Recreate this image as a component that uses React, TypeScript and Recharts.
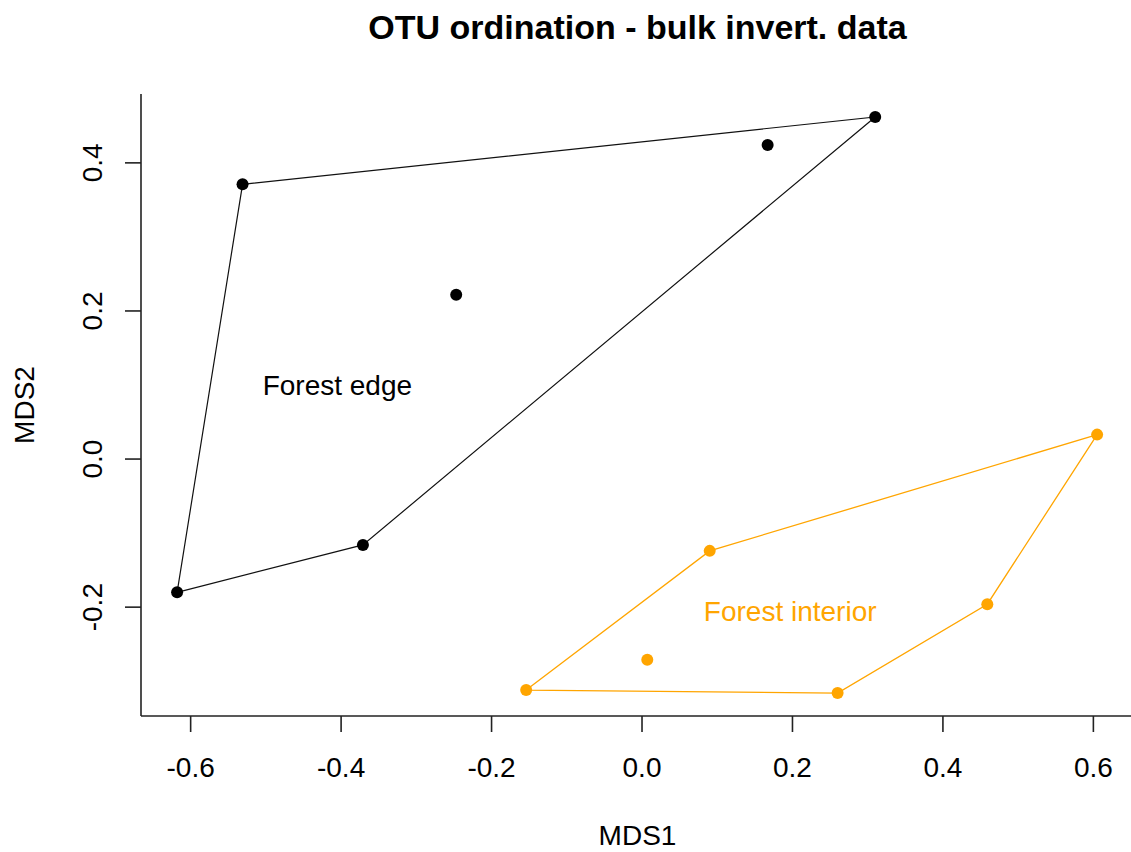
import React from "react"
import { ScatterChart, Scatter, XAxis, YAxis } from "recharts"

// NMDS site scores
const edgeMDS1 = [-0.618, -0.531, -0.371, -0.247, 0.167, 0.31]
const edgeMDS2 = [-0.18, 0.371, -0.116, 0.222, 0.424, 0.462]
const edgeHull = [0, 1, 5, 2, 0]

const interiorMDS1 = [-0.154, 0.007, 0.09, 0.26, 0.459, 0.605]
const interiorMDS2 = [-0.312, -0.271, -0.124, -0.316, -0.196, 0.033]
const interiorHull = [0, 2, 5, 4, 3, 0]

const groupNames = ["Forest edge", "Forest interior"]
const groupColors = ["#000000", "#FFA500"]
const labelMDS1 = [-0.405, 0.197]
const labelMDS2 = [0.1, -0.205]

const xTicks = [-0.6, -0.4, -0.2, 0, 0.2, 0.4, 0.6]
const yTicks = [-0.2, 0, 0.2, 0.4]

const FONT = "'Liberation Sans', Arial, sans-serif"
const W = 1140
const H = 852
const LEFT = 141
const TOP = 94
const RIGHT = 1134
const BOTTOM = 716

const toPoints = (xs: number[], ys: number[]) => xs.map((x, i) => ({ x, y: ys[i] }))
const toHull = (xs: number[], ys: number[], idx: number[]) => idx.map((i) => ({ x: xs[i], y: ys[i] }))

const edgePoints = toPoints(edgeMDS1, edgeMDS2)
const interiorPoints = toPoints(interiorMDS1, interiorMDS2)
const edgeOutline = toHull(edgeMDS1, edgeMDS2, edgeHull)
const interiorOutline = toHull(interiorMDS1, interiorMDS2, interiorHull)
const labels = groupNames.map((name, i) => ({ x: labelMDS1[i], y: labelMDS2[i], name, color: groupColors[i] }))

const fmt = (v: number) => v.toFixed(1)

const XTick = (p: any) => (
  <text x={p.x} y={BOTTOM + 61} textAnchor="middle" fontSize={28} fill="#000" fontFamily={FONT}>
    {fmt(p.payload.value)}
  </text>
)

const YTick = (p: any) => {
  const x = LEFT - 39
  return (
    <text
      x={x}
      y={p.y}
      textAnchor="middle"
      fontSize={28}
      fill="#000"
      fontFamily={FONT}
      transform={`rotate(-90 ${x} ${p.y})`}
    >
      {fmt(p.payload.value)}
    </text>
  )
}

const dot = (color: string) => (p: any) => <circle cx={p.cx} cy={p.cy} r={6} fill={color} />
const noShape = () => <g />
const labelShape = (p: any) => (
  <text x={p.cx} y={p.cy} dy="0.36em" textAnchor="middle" fontSize={28} fill={p.payload.color} fontFamily={FONT}>
    {p.payload.name}
  </text>
)

export default function App() {
  return (
    <div style={{ position: "absolute", left: 0, top: 0, width: 1131, height: H, overflow: "hidden", background: "#fff" }}>
      <ScatterChart width={W} height={H} margin={{ top: TOP, right: W - RIGHT, bottom: 0, left: 0 }}>
        <XAxis
          type="number"
          dataKey="x"
          domain={[-0.666, 0.654]}
          ticks={xTicks}
          interval={0}
          height={H - BOTTOM}
          tickSize={16}
          axisLine={{ stroke: "#222", strokeWidth: 1.6 }}
          tickLine={{ stroke: "#222", strokeWidth: 1.6 }}
          tick={XTick}
          allowDataOverflow
        />
        <YAxis
          type="number"
          dataKey="y"
          domain={[-0.347, 0.493]}
          ticks={yTicks}
          interval={0}
          width={LEFT}
          tickSize={16}
          axisLine={{ stroke: "#222", strokeWidth: 1.6 }}
          tickLine={{ stroke: "#222", strokeWidth: 1.6 }}
          tick={YTick}
          allowDataOverflow
        />
        <Scatter data={edgeOutline} line={{ stroke: "#111", strokeWidth: 1.2 }} shape={noShape} isAnimationActive={false} />
        <Scatter data={interiorOutline} line={{ stroke: "#FFA500", strokeWidth: 1.3 }} shape={noShape} isAnimationActive={false} />
        <Scatter data={edgePoints} shape={dot("#000")} isAnimationActive={false} />
        <Scatter data={interiorPoints} shape={dot("#FFA500")} isAnimationActive={false} />
        <Scatter data={labels} shape={labelShape} isAnimationActive={false} />
      </ScatterChart>
      <svg width={1131} height={H} style={{ position: "absolute", left: 0, top: 0, pointerEvents: "none" }}>
        <text x={(LEFT + RIGHT) / 2} y={39} textAnchor="middle" fontSize={34} fontWeight="bold" fontFamily={FONT} fill="#000">
          OTU ordination - bulk invert. data
        </text>
        <text x={(LEFT + RIGHT) / 2} y={845} textAnchor="middle" fontSize={28} fontFamily={FONT} fill="#000">
          MDS1
        </text>
        <text
          x={34}
          y={(TOP + BOTTOM) / 2}
          textAnchor="middle"
          fontSize={28}
          fontFamily={FONT}
          fill="#000"
          transform={`rotate(-90 34 ${(TOP + BOTTOM) / 2})`}
        >
          MDS2
        </text>
      </svg>
    </div>
  )
}
